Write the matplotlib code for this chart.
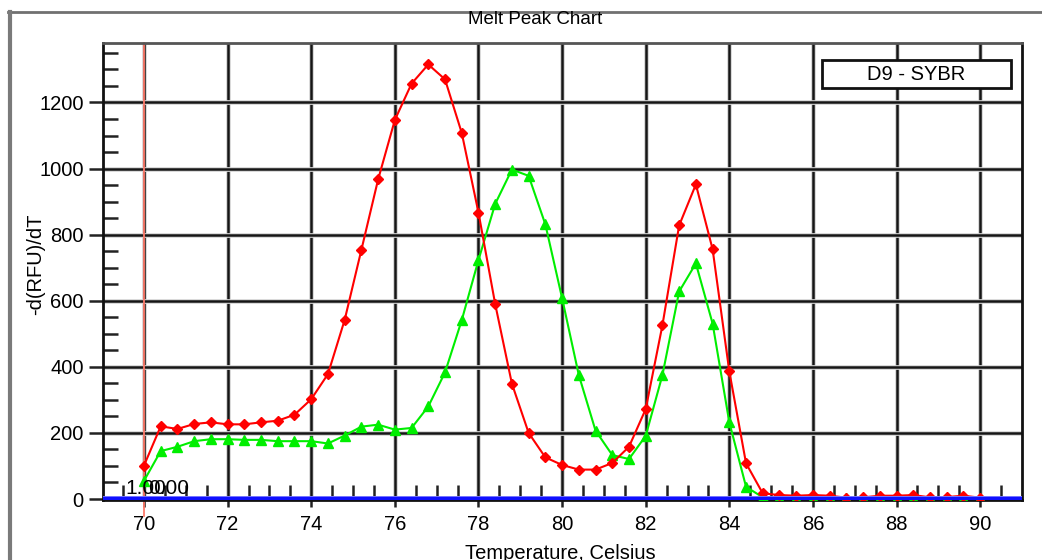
import matplotlib
matplotlib.use('Agg')
import matplotlib.pyplot as plt
import matplotlib.patheffects as pe
from matplotlib.lines import Line2D
from matplotlib.patches import Rectangle
import numpy as np

plt.rcParams['font.family'] = ['Liberation Sans', 'DejaVu Sans']

# Temperature steps of the melt run (Celsius)
temps = [70.0, 70.4, 70.8, 71.2, 71.6, 72.0, 72.4, 72.8, 73.2, 73.6,
         74.0, 74.4, 74.8, 75.2, 75.6, 76.0, 76.4, 76.8, 77.2, 77.6,
         78.0, 78.4, 78.8, 79.2, 79.6, 80.0, 80.4, 80.8, 81.2, 81.6,
         82.0, 82.4, 82.8, 83.2, 83.6, 84.0, 84.4, 84.8, 85.2, 85.6,
         86.0, 86.4, 86.8, 87.2, 87.6, 88.0, 88.4, 88.8, 89.2, 89.6, 90.0]

# -d(RFU)/dT, red well
red_vals = [101, 220, 212, 227, 232, 226, 226, 232, 237, 255,
            302, 378, 542, 754, 967, 1147, 1257, 1315, 1270, 1108,
            867, 590, 349, 200, 126, 103, 89, 89, 109, 158,
            272, 526, 828, 952, 756, 386, 108, 17, 12, 10,
            12, 10, 4, 5, 10, 10, 12, 5, 6, 10, 4]

# -d(RFU)/dT, green well
green_vals = [55, 145, 158, 175, 181, 181, 179, 179, 175, 175,
              175, 168, 192, 219, 225, 210, 215, 280, 383, 541,
              723, 893, 997, 978, 831, 608, 375, 207, 133, 121,
              191, 375, 628, 713, 531, 232, 37, 5, 2, 2,
              2, 2, 2, 2, 2, 2, 2, 2, 2, 2, 2]

start_temp = 70.0
threshold = 0.0
legend_label = 'D9 - SYBR'

fig = plt.figure(figsize=(10.42, 5.6), dpi=100)
ax = fig.add_axes([103 / 1042, 60 / 560, 919 / 1042, 457 / 560])

ax.plot(temps, green_vals, color='#00ee00', lw=1.5, marker='^', ms=6.5, zorder=3)
ax.plot(temps, red_vals, color='#ff0000', lw=1.5, marker='D', ms=5.2, zorder=4)

# threshold line and start marker
ax.axhline(threshold, color='#1010ff', lw=3.2, zorder=5,
           path_effects=[pe.Stroke(linewidth=5, foreground='#9090ff'), pe.Normal()])
ax.axvline(start_temp, ymin=-0.035, ymax=1, color='#ff7a6a', lw=1.3, zorder=2, clip_on=False)

ax.set_xlim(69.02, 91.0)
ax.set_ylim(-3, 1380)

ax.set_xticks(np.arange(70, 91, 2))
ax.set_xticks(np.arange(69.5, 91, 0.5), minor=True)
ax.set_yticks(np.arange(0, 1201, 200))
ax.set_yticks(np.arange(0, 1380, 50), minor=True)

ax.tick_params(axis='both', which='major', direction='out', labelsize=14.5, width=1.8, color='#222222')
ax.tick_params(axis='x', which='major', length=5, pad=6)
ax.tick_params(axis='y', which='major', length=10, pad=4)
ax.tick_params(axis='both', which='minor', direction='in', length=11, width=1.8, color='#222222')

ax.grid(True, which='major', color='#151515', lw=1.8,
        path_effects=[pe.Stroke(linewidth=3.4, foreground='#d4d4d4'), pe.Normal()])
ax.set_axisbelow(True)

for side in ['left', 'right', 'bottom', 'top']:
    ax.spines[side].set_linewidth(2)
    ax.spines[side].set_color('#111111')
ax.spines['top'].set_color('#555555')

# overlapping cursor readouts
fig.text(125 / 1042, 1 - 494 / 560, '1.00', fontsize=15, va='baseline', ha='left', zorder=10)
fig.text(148 / 1042, 1 - 494 / 560, '0.00', fontsize=15, va='baseline', ha='left', zorder=10)

# series label box
ax.add_patch(Rectangle((0.7824, 0.9015), 0.2056, 0.0613, transform=ax.transAxes,
                       facecolor='white', edgecolor='#111111', lw=2, zorder=6))
ax.text(0.8852, 0.932, legend_label, transform=ax.transAxes, fontsize=14.5,
        ha='center', va='center', zorder=7)

fig.text(535 / 1042, 1 - 11 / 560, 'Melt Peak Chart', fontsize=13.5, ha='center', va='top')
fig.text(36 / 1042, 1 - 264 / 560, '-d(RFU)/dT', fontsize=14.5, rotation=90, ha='center', va='center')
fig.text(560 / 1042, 1 - 544 / 560, 'Temperature, Celsius', fontsize=14.5, ha='center', va='top')

# window frame
fig.add_artist(Line2D([8 / 1042, 1], [1 - 12 / 560, 1 - 12 / 560], color='#707070', lw=2))
fig.add_artist(Line2D([10 / 1042, 10 / 1042], [0, 1 - 12 / 560], color='#7a7a7a', lw=3))

plt.savefig('out.png', dpi=100)
